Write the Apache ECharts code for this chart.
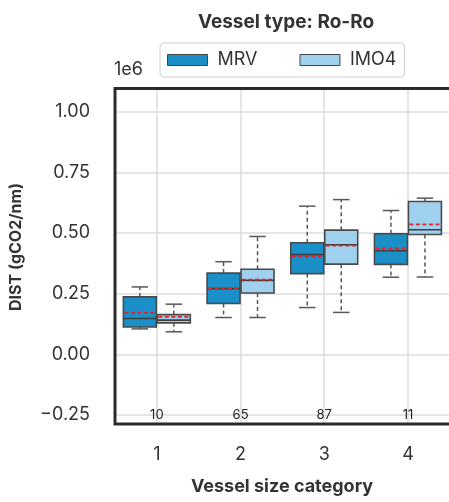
<!DOCTYPE html>
<html>
<head>
<meta charset="utf-8">
<script src="https://cdn.jsdelivr.net/npm/echarts@6/dist/echarts.min.js"></script>
<style>
html,body{margin:0;padding:0;background:#fff;}
#chart{width:449px;height:502px;}
</style>
</head>
<body>
<div id="chart"></div>
<script>
// ---- data (gCO2/nm) ----
const categories = ['1', '2', '3', '4'];
const counts = [10, 65, 87, 11];
const seriesNames = ['MRV', 'IMO4'];

const mrvMin    = [105000, 152000, 193000, 318000];
const mrvQ1     = [113000, 210000, 333000, 371000];
const mrvMedian = [148000, 271000, 411000, 427000];
const mrvQ3     = [237000, 335000, 460000, 497000];
const mrvMax    = [278000, 382000, 611000, 593000];
const mrvMean   = [171000, 273000, 404000, 437000];

const imoMin    = [93000, 152000, 173000, 319000];
const imoQ1     = [130000, 253000, 372000, 494000];
const imoMedian = [141000, 305000, 452000, 514000];
const imoQ3     = [164000, 351000, 512000, 630000];
const imoMax    = [207000, 486000, 638000, 644000];
const imoMean   = [155000, 308000, 448000, 536000];

const yTicks = [-250000, 0, 250000, 500000, 750000, 1000000];

// ---- build ----
const FONT = 'Inter';
const colors = ['#1b8fc8', '#9fd1ef'];

function build(mins, q1s, meds, q3s, maxs, means) {
  return categories.map((c, i) => [i + 1, mins[i], q1s[i], meds[i], q3s[i], maxs[i], means[i], counts[i]]);
}

function makeRender(side) {
  return function (params, api) {
    const x = api.value(0);
    const half = 0.4;
    const xl = side < 0 ? x - half : x;
    const xr = side < 0 ? x : x + half;
    const pl = api.coord([xl, 0])[0] + (side < 0 ? 0 : 0.5);
    const pr = api.coord([xr, 0])[0] - (side < 0 ? 0.5 : 0);
    const cx = (pl + pr) / 2;
    const cap = (pr - pl) / 4;
    const yMin = api.coord([x, api.value(1)])[1];
    const yQ1 = api.coord([x, api.value(2)])[1];
    const yMed = api.coord([x, api.value(3)])[1];
    const yQ3 = api.coord([x, api.value(4)])[1];
    const yMax = api.coord([x, api.value(5)])[1];
    const yMean = api.coord([x, api.value(6)])[1];
    const whisk = { stroke: '#585858', lineWidth: 1.5, lineDash: [4, 3] };
    const capSt = { stroke: '#585858', lineWidth: 1.5 };
    const children = [
      { type: 'line', shape: { x1: cx, y1: yQ3, x2: cx, y2: yMax }, style: whisk },
      { type: 'line', shape: { x1: cx, y1: yQ1, x2: cx, y2: yMin }, style: whisk },
      { type: 'line', shape: { x1: cx - cap, y1: yMax, x2: cx + cap, y2: yMax }, style: capSt },
      { type: 'line', shape: { x1: cx - cap, y1: yMin, x2: cx + cap, y2: yMin }, style: capSt },
      { type: 'rect', shape: { x: pl, y: yQ3, width: pr - pl, height: yQ1 - yQ3 },
        style: { fill: colors[side < 0 ? 0 : 1], stroke: '#4a4a4a', lineWidth: 1.6 } },
      { type: 'line', shape: { x1: pl, y1: yMed, x2: pr, y2: yMed }, style: { stroke: '#3f3f3f', lineWidth: 1.6 } },
      { type: 'line', shape: { x1: pl + 1, y1: yMean, x2: pr - 1, y2: yMean }, style: { stroke: '#e3242b', lineWidth: 1.8, lineDash: [4, 2.5] } }
    ];
    if (side < 0) {
      const p = api.coord([x, -252000]);
      children.push({ type: 'text', x: p[0], y: p[1],
        style: { text: String(api.value(7)), fill: '#222', font: '13px ' + FONT, align: 'center', verticalAlign: 'middle' } });
    }
    return { type: 'group', children: children };
  };
}

const chart = echarts.init(document.getElementById('chart'), null, { renderer: 'canvas' });

const option = {
  animation: false,
  backgroundColor: '#fff',
  textStyle: { fontFamily: FONT },
  title: {
    text: 'Vessel type: Ro-Ro',
    left: 281, top: 8, textAlign: 'center',
    textStyle: { fontFamily: FONT, fontWeight: 'bold', fontSize: 19, color: '#333' }
  },
  legend: {
    data: seriesNames,
    left: 160, top: 43,
    padding: [8, 8, 8, 7],
    itemWidth: 40, itemHeight: 11, itemGap: 42,
    icon: 'rect',
    borderColor: '#d0d0d0', borderWidth: 1, borderRadius: 4,
    backgroundColor: '#fff',
    itemStyle: { borderColor: '#444', borderWidth: 1 },
    textStyle: { fontFamily: FONT, fontSize: 18, color: '#333', padding: [0, 0, 0, 5] }
  },
  grid: {
    left: 115, top: 88.5, width: 337.3, bottom: 78,
    outerBoundsMode: 'none', containLabel: false,
    show: true, borderColor: '#2b2b2b', borderWidth: 3,
    backgroundColor: 'transparent', z: 5
  },
  xAxis: {
    type: 'value', min: 0.5, max: 4.53,
    axisLine: { show: false }, axisTick: { show: false },
    splitLine: { show: true, lineStyle: { color: '#dddddd', width: 1.5 } },
    axisLabel: {
      margin: 22, fontFamily: FONT, fontSize: 18, color: '#333',
      formatter: v => (Number.isInteger(v) && v >= 1 && v <= categories.length) ? categories[v - 1] : ''
    }
  },
  yAxis: {
    type: 'value', min: -287000, max: 1096000,
    minInterval: 250000, maxInterval: 250000,
    axisLine: { show: false }, axisTick: { show: false },
    splitLine: { show: true, lineStyle: { color: '#dddddd', width: 1.5 } },
    axisLabel: {
      margin: 25, fontFamily: FONT, fontSize: 18, color: '#333',
      formatter: v => {
        const hit = yTicks.find(t => Math.abs(t - v) < 1);
        if (hit === undefined) return '';
        return (hit / 1e6).toFixed(2).replace('-', '\u2212');
      }
    }
  },
  graphic: [
    { type: 'text', left: 114, top: 61, style: { text: '1e6', font: '18px ' + FONT, fill: '#333' } },
    { type: 'text', x: 16, y: 247, rotation: Math.PI / 2,
      style: { text: 'DIST (gCO2/nm)', font: 'bold 16px ' + FONT, fill: '#333', align: 'center', verticalAlign: 'middle' } },
    { type: 'text', x: 282, y: 487,
      style: { text: 'Vessel size category', font: 'bold 18px ' + FONT, fill: '#333', align: 'center', verticalAlign: 'middle' } }
  ],
  series: [
    { name: 'MRV', type: 'custom', renderItem: makeRender(-1),
      itemStyle: { color: colors[0] }, encode: { x: 0, y: [1, 5] },
      data: build(mrvMin, mrvQ1, mrvMedian, mrvQ3, mrvMax, mrvMean) },
    { name: 'IMO4', type: 'custom', renderItem: makeRender(1),
      itemStyle: { color: colors[1] }, encode: { x: 0, y: [1, 5] },
      data: build(imoMin, imoQ1, imoMedian, imoQ3, imoMax, imoMean) }
  ]
};
chart.setOption(option);
</script>
</body>
</html>
